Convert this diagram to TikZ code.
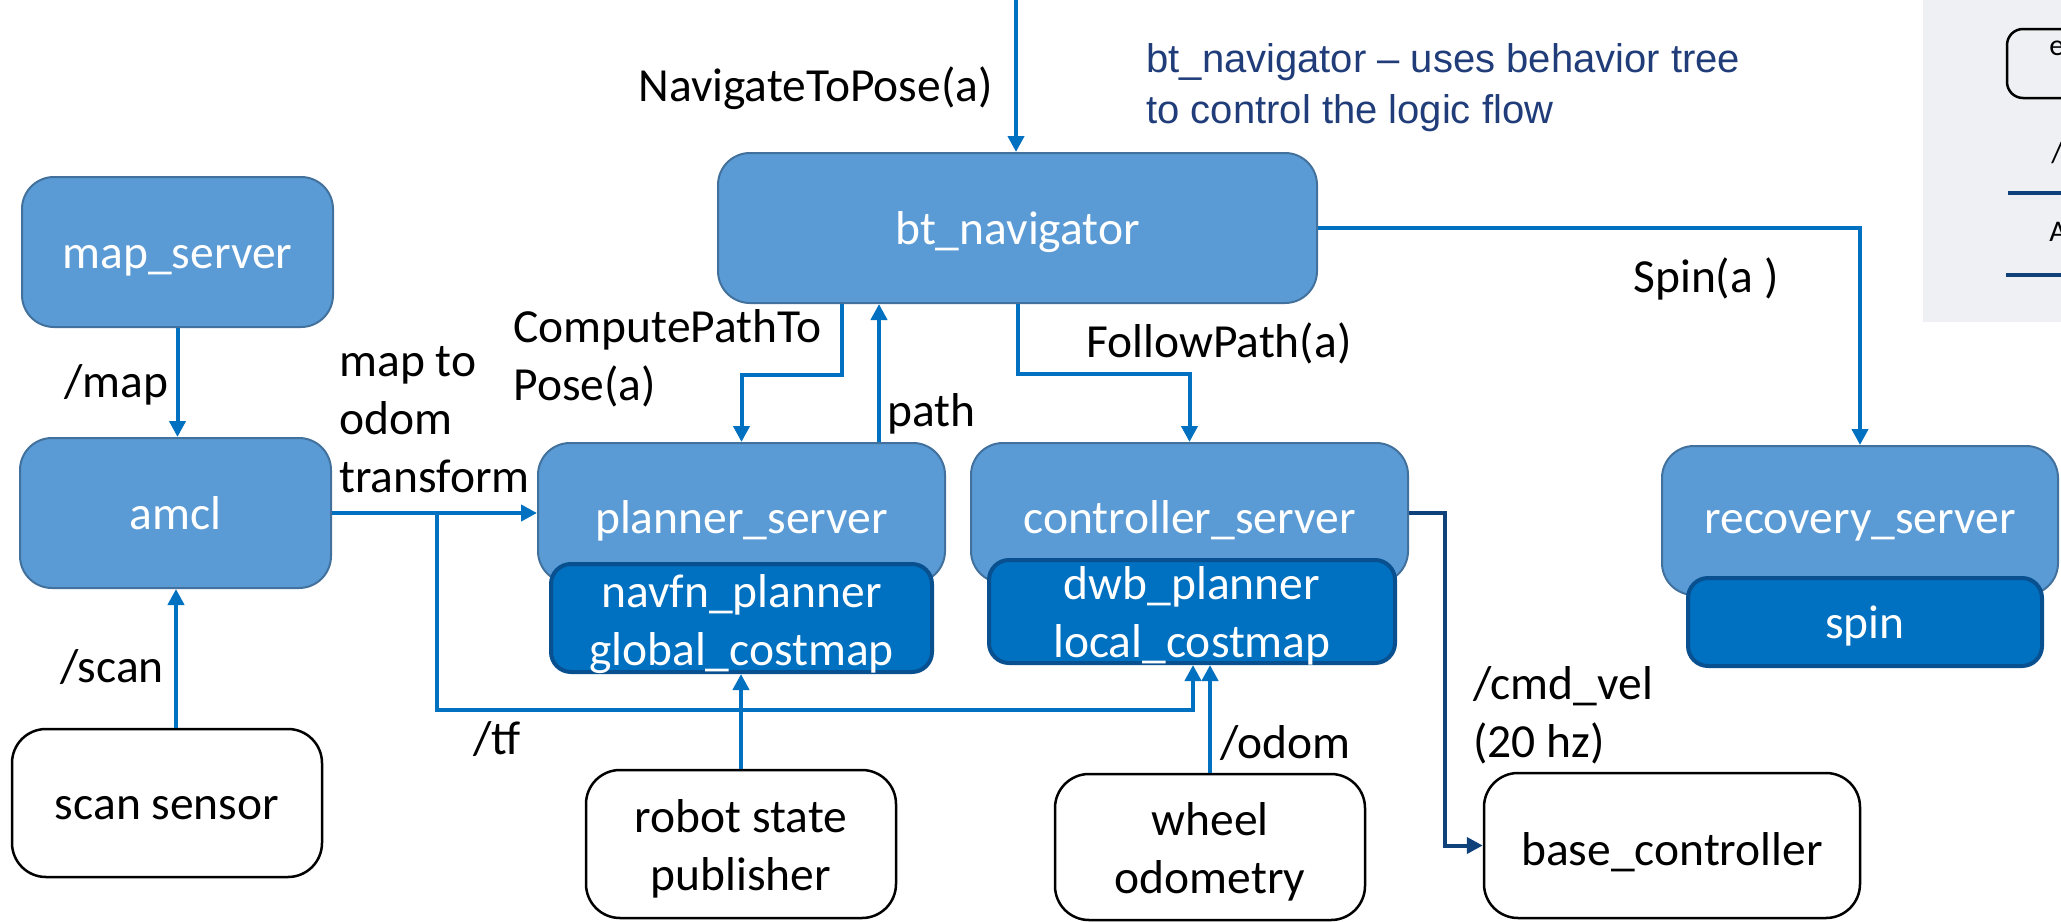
\documentclass[tikz,border=0pt]{standalone}
\usepackage{fontspec}
\setmainfont{Carlito}
\newfontfamily\notefont{Liberation Sans}
\usetikzlibrary{arrows.meta}

\definecolor{boxfill}{HTML}{5B9BD5}
\definecolor{boxdraw}{HTML}{41719C}
\definecolor{infill}{HTML}{0070C0}
\definecolor{indraw}{HTML}{08508F}
\definecolor{flow}{HTML}{0070C0}
\definecolor{cmdblue}{HTML}{0F417A}
\definecolor{notecol}{HTML}{203D7A}
\definecolor{legendbg}{HTML}{EEF0F3}

\newcommand\mainsize{\fontsize{23.75pt}{29pt}\selectfont}
\newcommand\notesize{\notefont\fontsize{20pt}{25.5pt}\selectfont}
\newcommand\legsize{\fontsize{15pt}{18pt}\selectfont}

\begin{document}
\begin{tikzpicture}[x=0.5pt,y=-0.5pt,
  oneline/.style={text height=20.75pt, text depth=4.75pt},
  lowline/.style={text height=24.75pt, text depth=4.75pt},
  highline/.style={text height=17.75pt, text depth=4.75pt},
  server/.style={rectangle, rounded corners=16pt, fill=boxfill, draw=boxdraw,
    line width=1pt, text=white, inner sep=0pt, align=center, font=\mainsize},
  plugin/.style={rectangle, rounded corners=10pt, fill=infill, draw=indraw,
    line width=2pt, text=white, inner sep=0pt, align=center, font=\mainsize},
  device/.style={rectangle, rounded corners=17pt, fill=white, draw=black,
    line width=1.25pt, text=black, inner sep=0pt, align=center, font=\mainsize},
  boxtext/.style={inner sep=0pt, align=center, font=\mainsize},
  lbl/.style={inner sep=0pt, anchor=west, align=left, font=\mainsize},
  arr/.style={draw=flow, line width=2pt, -{Triangle[length=8pt,width=8pt]}},
  cmdarr/.style={draw=cmdblue, line width=2pt, -{Triangle[length=8pt,width=8pt]}}
]
\clip (0,0) rectangle (2061,921);
\fill[white] (0,0) rectangle (2061,921);

% legend panel on the right
\fill[legendbg] (1923,0) rectangle (2061,322);
\draw[black, line width=1.25pt, rounded corners=8pt] (2007,29) rectangle (2110,98);
\node[lbl, font=\legsize] (lege) at (2049,48) {e};
\node[lbl, font=\legsize] (legslash) at (2051,153) {/};
\draw[cmdblue, line width=2pt] (2008,193) -- (2070,193);
\node[lbl, font=\legsize] (lega) at (2049,232) {A};
\draw[cmdblue, line width=2pt] (2006,275) -- (2070,275);

% servers
\node[server, oneline, minimum width=155.5pt, minimum height=75pt] (map) at (177.5,252) {map\_server};
\node[server, oneline, minimum width=155.5pt, minimum height=75pt] (amcl) at (175.5,513) {amcl};
\node[server, oneline, minimum width=299.5pt, minimum height=75pt] (bt) at (1017.5,228) {bt\_navigator};
\node[server, lowline, minimum width=203.5pt, minimum height=70pt] (planner) at (741.5,513) {planner\_server};
\node[plugin, minimum width=190.5pt, minimum height=54pt] (plin) at (741.5,618) {};
\node[boxtext, text=white, yshift=-3.25pt] (plintxt) at (plin) {navfn\_planner\\global\_costmap};
\node[server, lowline, minimum width=218.5pt, minimum height=70pt] (ctrl) at (1189.5,513) {controller\_server};
\node[plugin, minimum width=203pt, minimum height=51.5pt] (ctrlin) at (1192,611.5) {};
\node[boxtext, text=white, yshift=-2pt] (ctrlintxt) at (ctrlin) {dwb\_planner\\local\_costmap};
\node[server, highline, minimum width=198pt, minimum height=74.5pt] (rec) at (1860,520.5) {recovery\_server};
\node[plugin, oneline, minimum width=177pt, minimum height=44pt] (spin) at (1865,622) {spin};

% external sources and sinks
\node[device, oneline, minimum width=155pt, minimum height=74pt] (scan) at (167,803) {scan sensor};
\node[device, minimum width=155pt, minimum height=74pt] (rsp) at (741,844) {};
\node[boxtext, yshift=-2.5pt] (rsptxt) at (rsp) {robot state\\publisher};
\node[device, minimum width=155pt, minimum height=73pt] (wheel) at (1210,847) {};
\node[boxtext, yshift=-2.5pt] (wheeltxt) at (wheel) {wheel\\odometry};
\node[device, lowline, minimum width=188pt, minimum height=72.5pt] (base) at (1672,845.5) {base\_controller};

% helper coordinates for connector columns and rows
\coordinate (navtop) at (1016,0);
\coordinate (xcompute) at (842,0);
\coordinate (xpath) at (879,0);
\coordinate (xfollow) at (1018,0);
\coordinate (xscan) at (176,0);
\coordinate (xtf) at (437,0);
\coordinate (xtfr) at (1193,0);
\coordinate (tfy) at (0,710);
\coordinate (xcmd) at (1445,0);

% connectors
\draw[arr] (navtop) -- (navtop |- bt.north);
\draw[arr] (bt.south -| xcompute) -- ++(0,71) -| (planner.north);
\draw[arr] (planner.north -| xpath) -- (bt.south -| xpath);
\draw[arr] (bt.south -| xfollow) -- ++(0,70) -| (ctrl.north);
\draw[arr] (bt.east) -| (rec.north);
\draw[arr] (map.south) -- (map.south |- amcl.north);
\draw[arr] (scan.north -| xscan) -- (amcl.south -| xscan);
\draw[arr] (amcl.east) -- (planner.west);
\draw[arr] (amcl.east -| xtf) |- (xtfr |- tfy) -- (ctrlin.south -| xtfr);
\draw[arr] (rsp.north) -- (rsp.north |- plin.south);
\draw[arr] (wheel.north) -- (wheel.north |- ctrlin.south);
\draw[cmdarr] (ctrl.east) -- (xcmd |- ctrl.east) |- (base.west);

% connector labels
\node[lbl, anchor=east] (lnav) at (993,88) {NavigateToPose(a)};
\node[lbl, text=notecol, font=\notesize] (lnote) at (1146,88) {bt\_navigator \textendash{} uses behavior tree\\to control the logic flow};
\node[lbl] (lcompute) at (513,358) {ComputePathTo\\Pose(a)};
\node[lbl] (lpath) at (887,414) {path};
\node[lbl] (lfollow) at (1086,343) {FollowPath(a)};
\node[lbl] (lspin) at (1633,279) {Spin(a\kern0.25em)};
\node[lbl] (lmap) at (64,385) {/map};
\node[lbl] (ltf) at (339,420) {map to\\odom\\transform};
\node[lbl] (lscan) at (60,667) {/scan};
\node[lbl] (ltfx) at (473,739) {/tf};
\node[lbl] (lodom) at (1220,743) {/odom};
\node[lbl] (lcmd) at (1473,715) {/cmd\_vel\\(20 hz)};
\end{tikzpicture}
\end{document}
